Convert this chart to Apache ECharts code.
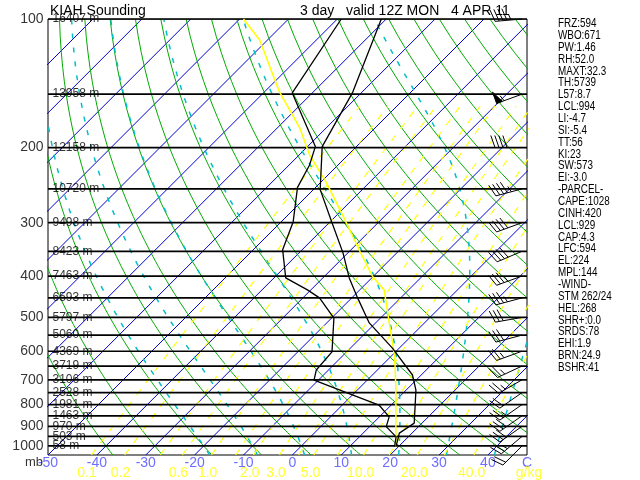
<!DOCTYPE html>
<html><head><meta charset="utf-8">
<script src="https://cdn.jsdelivr.net/npm/echarts@6/dist/echarts.min.js"></script>
<style>html,body{margin:0;padding:0;background:#fff}#c{width:640px;height:480px}</style>
</head><body><div id="c"></div>
<script>
const TEMP_P = [1004, 933, 884, 740, 682, 590, 515, 450, 404, 353, 299, 251, 199, 149, 100];
const TEMP_C = [19.5, 17.4, 18.4, 12.0, 8.2, -1.4, -11.3, -18.8, -24.6, -31.0, -39.6, -48.6, -57.0, -61.8, -71.0];
const DEW_P = [1004, 952, 901, 855, 802, 701, 664, 602, 502, 450, 431, 404, 347, 299, 248, 220, 199, 149, 100];
const DEW_C = [19.2, 17.5, 13.4, 12.0, 7.5, -10.9, -12.5, -13.0, -19.5, -26.6, -30.7, -37.6, -44.0, -47.5, -53.7, -55.8, -58.4, -74.1, -79.2];
const PARCEL_P = [1004, 953, 740, 619, 515, 431, 401, 348, 290, 242, 208, 180, 148, 112, 100];
const PARCEL_C = [19.5, 17.5, 7.9, 0.9, -7.2, -15.0, -20.1, -28.2, -38.4, -48.7, -57.9, -65.4, -77.0, -91.6, -99.2];
const WIND_P = [100, 150, 200, 250, 300, 350, 400, 450, 500, 550, 600, 650, 700, 750, 800, 850, 900, 950, 1000];
const WIND_DIR = [265, 250, 270, 255, 250, 247, 250, 255, 260, 255, 250, 245, 240, 235, 235, 235, 235, 230, 225];
const WIND_KT = [45, 55, 40, 45, 40, 40, 35, 35, 30, 30, 25, 25, 25, 20, 25, 30, 30, 25, 20];
const LEVEL_P = [100, 150, 200, 250, 300, 350, 400, 450, 500, 550, 600, 650, 700, 750, 800, 850, 900, 950, 1000];
const LEVEL_HGT = ['16407 m', '13958 m', '12158 m', '10720 m', '9498 m', '8423 m', '7463 m', '6593 m', '5797 m', '5060 m', '4369 m', '3719 m', '3106 m', '2528 m', '1981 m', '1463 m', '970 m', '503 m', '58 m'];
const P_TICKS = [100, 200, 300, 400, 500, 600, 700, 800, 900, 1000];
const T_TICKS = [-50, -40, -30, -20, -10, 0, 10, 20, 30, 40, 48];
const T_TICK_LABELS = ['-50', '-40', '-30', '-20', '-10', '0', '10', '20', '30', '40', 'C'];
const ISOTHERMS = [-140, -130, -120, -110, -100, -90, -80, -70, -60, -50, -40, -30, -20, -10, 0, 10, 20, 30, 40];
const DRY_THETA = [-40, -30, -20, -10, 0, 10, 20, 30, 40, 50, 60, 70, 80, 90, 100, 110, 120, 130, 140, 150, 160, 170, 180];
const MOIST_THETAW = [-20, -10, 0, 10, 20, 30, 40];
const MIX_W = [0.1, 0.2, 0.4, 0.6, 1, 1.5, 2, 3, 4, 5, 7, 10, 14, 20, 28, 40];
const MIX_LABELED = [0.1, 0.2, 0.6, 1.0, 2.0, 3.0, 5.0, 10.0, 20.0, 40.0];
const STATS = ['FRZ:594', 'WBO:671', 'PW:1.46', 'RH:52.0', 'MAXT:32.3', 'TH:5739', 'L57:8.7', 'LCL:994', 'LI:-4.7', 'SI:-5.4', 'TT:56', 'KI:23', 'SW:573', 'EI:-3.0', '-PARCEL-', 'CAPE:1028', 'CINH:420', 'LCL:929', 'CAP:4.3', 'LFC:594', 'EL:224', 'MPL:144', '-WIND-', 'STM 262/24', 'HEL:268', 'SHR+:0.0', 'SRDS:78', 'EHI:1.9', 'BRN:24.9', 'BSHR:41'];
const TITLE_LEFT = 'KIAH Sounding';
const TITLE_RIGHT = '3 day   valid 12Z MON   4 APR 11';

// ---------------- skew-T projection ----------------
const GL = 48, GT = 19, GW = 479, GH = 436;
const XMIN = -50, XMAX = 48, PTOP = 100, PBOT = 1050;
const SKEW = (GH / Math.log(PBOT / PTOP)) / (GW / (XMAX - XMIN));
const sx = (t, p) => t + SKEW * Math.log(PBOT / p);

function esat(tc) { return 6.112 * Math.exp(17.67 * tc / (tc + 243.5)); }
function tdFromW(wgkg, p) {
  const w = wgkg / 1000; const e = w * p / (0.622 + w); const l = Math.log(e / 6.112);
  return 243.5 * l / (17.67 - l);
}
function moistRate(p, T) {
  const tc = T - 273.15; const es = esat(tc); const rs = 0.622 * es / (p - es);
  return (287.04 * T + 2.501e6 * rs) / (p * (1005.7 + 2.501e6 * 2.501e6 * rs * 0.622 / (287.04 * T * T)));
}
function moistPoints(tw) {
  const pts = [];
  let T = tw + 273.15, p = 1000;
  const down = [];
  while (p < PBOT) { const dp = 5; const k1 = moistRate(p, T); const k2 = moistRate(p + dp, T + k1 * dp); T += (k1 + k2) / 2 * dp; p += dp; down.push([sx(T - 273.15, p), p]); }
  down.reverse().forEach(d => pts.push(d));
  T = tw + 273.15; p = 1000; pts.push([sx(tw, p), p]);
  while (p > PTOP) { const dp = -5; const k1 = moistRate(p, T); const k2 = moistRate(p + dp, T + k1 * dp); T += (k1 + k2) / 2 * dp; p += dp; pts.push([sx(T - 273.15, p), p]); }
  return pts;
}
function ln(data, color, width, dash, z) {
  return { type: 'line', data, symbol: 'none', showSymbol: false, silent: true, animation: false, clip: true,
    lineStyle: { color, width, type: dash || 'solid' }, z: z || 2 };
}
const series = [];
ISOTHERMS.forEach(t => series.push(ln([[sx(t, PBOT), PBOT], [sx(t, PTOP), PTOP]], '#0000cc', 1)));
DRY_THETA.forEach(th => {
  const d = [];
  for (let p = PBOT; p >= PTOP; p -= 10) d.push([sx((th + 273.15) * Math.pow(p / 1000, 0.2857) - 273.15, p), p]);
  series.push(ln(d, '#00aa00', 1));
});
MOIST_THETAW.forEach(tw => series.push(ln(moistPoints(tw), '#00bfc8', 1.5, [5, 9])));
MIX_W.forEach(w => {
  const d = [];
  for (let p = PBOT; p >= 160; p -= 10) d.push([sx(tdFromW(w, p), p), p]);
  series.push(ln(d, '#ffff00', 1.1, [7, 8]));
});
LEVEL_P.forEach(p => series.push(ln([[XMIN, p], [XMAX, p]], '#000', 1.7, null, 3)));
series.push(ln(PARCEL_P.map((p, i) => [sx(PARCEL_C[i], p), p]), '#ffff00', 1.5, null, 4));
series.push(ln(TEMP_P.map((p, i) => [sx(TEMP_C[i], p), p]), '#000', 1.3, null, 5));
series.push(ln(DEW_P.map((p, i) => [sx(DEW_C[i], p), p]), '#000', 1.3, null, 5));

const FONT = 'Liberation Sans, Arial, sans-serif';
function labelSeries(points, texts, labelOpt) {
  return { type: 'scatter', clip: false, silent: true, animation: false, symbolSize: 1, z: 10,
    itemStyle: { color: 'rgba(0,0,0,0)' },
    data: points.map((v, i) => ({ value: v, label: { formatter: texts[i] } })),
    label: Object.assign({ show: true, fontFamily: FONT }, labelOpt) };
}
series.push(labelSeries(P_TICKS.map(p => [XMIN, p]), P_TICKS.map(String), { position: 'left', distance: 4, color: '#000', fontSize: 14 }));
series.push(labelSeries(LEVEL_P.map(p => [XMIN, p]), LEVEL_HGT, { position: 'right', distance: 4, color: '#000', fontSize: 12 }));
series.push(labelSeries(T_TICKS.map(t => [t, PBOT]), T_TICK_LABELS, { position: 'inside', offset: [0, 8], color: '#4848ff', fontSize: 14 }));
series.push(labelSeries(MIX_LABELED.map(w => [sx(tdFromW(w, 1100), 1100), PBOT]).concat([[XMAX, PBOT]]),
  MIX_LABELED.map(w => w.toFixed(1)).concat(['g/kg']), { position: 'inside', offset: [2, 18], color: '#ffff00', fontSize: 14 }));
series.push(labelSeries([[XMIN, PBOT]], ['mb'], { position: 'inside', offset: [-14, 7], color: '#000', fontSize: 13 }));

// wind barbs
const XB = XMIN + (GW - 5) / GW * (XMAX - XMIN);
function renderBarb(params, api) {
  const pt = api.coord([api.value(0), api.value(1)]);
  const a = api.value(2) * Math.PI / 180; const spd = api.value(3);
  const ux = Math.sin(a), uy = -Math.cos(a), nx = -uy, ny = ux;
  const L = 27, F = 12, G = 4;
  const st = { stroke: '#000', lineWidth: 1, fill: null };
  const ch = [{ type: 'line', shape: { x1: pt[0], y1: pt[1], x2: pt[0] + ux * L, y2: pt[1] + uy * L }, style: st }];
  let s = Math.round(spd / 5) * 5, d = L;
  const at = k => [pt[0] + ux * k, pt[1] + uy * k];
  while (s >= 50) {
    const b1 = at(d), b2 = at(d - 6); const tip = [b1[0] + nx * F, b1[1] + ny * F];
    ch.push({ type: 'polygon', shape: { points: [b1, tip, b2] }, style: { fill: '#000', stroke: '#000', lineWidth: 1 } });
    d -= 8; s -= 50;
  }
  while (s >= 10) {
    const b = at(d);
    ch.push({ type: 'line', shape: { x1: b[0], y1: b[1], x2: b[0] + nx * F + ux * F * 0.35, y2: b[1] + ny * F + uy * F * 0.35 }, style: st });
    d -= G; s -= 10;
  }
  if (s >= 5) {
    if (d === L) d -= G;
    const b = at(d);
    ch.push({ type: 'line', shape: { x1: b[0], y1: b[1], x2: b[0] + nx * F / 2 + ux * F * 0.18, y2: b[1] + ny * F / 2 + uy * F * 0.18 }, style: st });
  }
  return { type: 'group', children: ch };
}
series.push({ type: 'custom', coordinateSystem: 'cartesian2d', renderItem: renderBarb, clip: false, silent: true, animation: false, z: 20,
  encode: { x: 0, y: 1 }, data: WIND_P.map((p, i) => [XB, p, WIND_DIR[i], WIND_KT[i]]) });

const chart = echarts.init(document.getElementById('c'), null, { renderer: 'canvas' });
chart.setOption({
  animation: false,
  backgroundColor: '#fff',
  grid: { left: GL, top: GT, width: GW, height: GH, show: true, borderColor: '#000', borderWidth: 1, backgroundColor: '#fff', containLabel: false, outerBoundsMode: 'none' },
  xAxis: { type: 'value', min: XMIN, max: XMAX, show: false },
  yAxis: { type: 'log', logBase: 10, min: PTOP, max: PBOT, inverse: true, show: false },
  series,
  graphic: [
    { type: 'text', left: 50, top: 4, z: 50, style: { text: TITLE_LEFT, font: '14px ' + FONT, fill: '#000' } },
    { type: 'text', left: 300, top: 4, z: 50, style: { text: TITLE_RIGHT, font: '14px ' + FONT, fill: '#000' } },
    { type: 'text', left: 558, top: 17, z: 50, scaleX: 0.76, style: { text: STATS.join('\n'), font: '13px ' + FONT, lineHeight: 11.86, fill: '#000' } }
  ]
});
</script></body></html>
